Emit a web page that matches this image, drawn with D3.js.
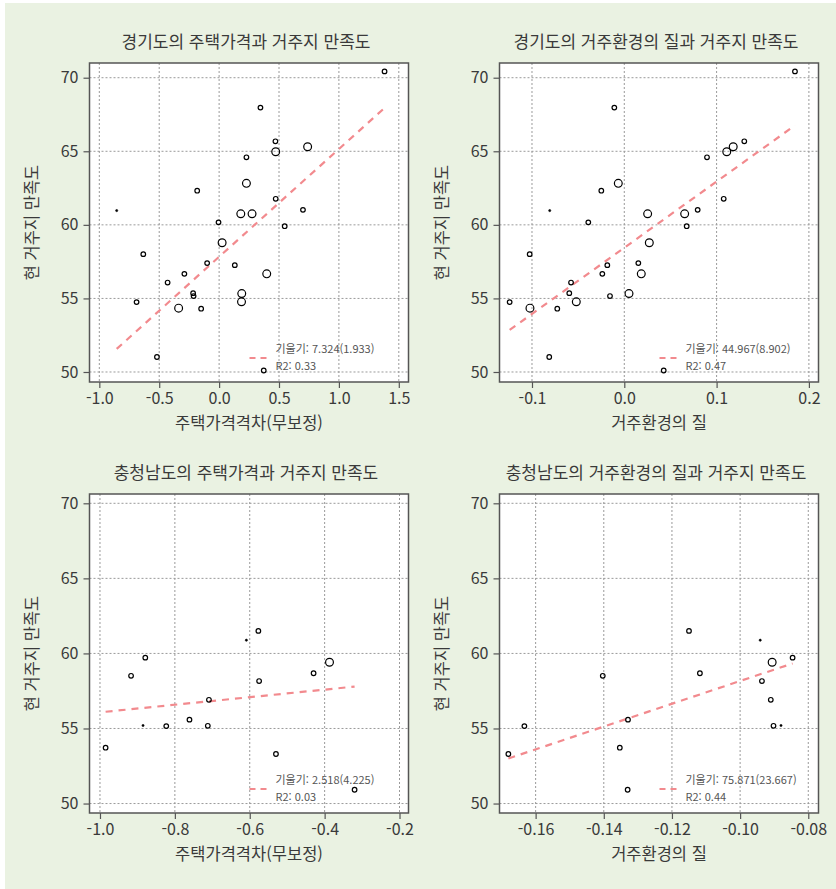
<!DOCTYPE html>
<html lang="ko">

<head>
    <meta charset="UTF-8">
    <script src="https://d3js.org/d3.v7.min.js"></script>
    <title>거주지 만족도</title>
    <style>
        html, body { margin: 0; padding: 0; background: #ffffff; }
        svg text { font-family: "Noto Sans CJK KR", "Noto Sans", sans-serif; }
    </style>
</head>

<body>
    <svg id="satisfaction" width="836" height="889"></svg>

    <script>
        // ---- data ----
        // 경기도: one entry per region
        const ggSatisfaction = [70.43, 67.97, 65.68, 64.97, 65.31, 64.59, 62.82, 62.32, 61.77, 61.02,
            60.97, 60.75, 60.75, 60.17, 59.91, 58.78, 58.01, 57.40, 57.26, 56.67,
            56.67, 56.08, 55.36, 55.16, 55.33, 54.77, 54.75, 54.34, 54.30, 51.02, 50.10];
        const ggPriceGap = [1.381, 0.345, 0.470, 0.4725, 0.739, 0.228, 0.228, -0.183, 0.4725, 0.700,
            -0.855, 0.181, 0.275, -0.005, 0.5475, 0.025, -0.633, -0.100, 0.131, 0.3975,
            -0.290, -0.430, -0.217, -0.213, 0.189, 0.187, -0.689, -0.338, -0.150, -0.519, 0.3725];
        const ggEnvQuality = [0.1849, -0.0108, 0.130, 0.111, 0.118, 0.0896, -0.0065, -0.0249, 0.1077, 0.0795,
            -0.0808, 0.0253, 0.0654, -0.039, 0.0676, 0.0271, -0.1025, 0.0152, -0.0184, 0.0184,
            -0.0238, -0.0577, -0.0596, -0.0155, 0.0051, -0.052, -0.1242, -0.1022, -0.0726, -0.0813, 0.0427];
        // marker size class: 0 = dot, 1 = small circle, 2 = large circle
        const ggSize = [1, 1, 1, 2, 2, 1, 2, 1, 1, 1,
            0, 2, 2, 1, 1, 2, 1, 1, 1, 2,
            1, 1, 1, 1, 2, 2, 1, 2, 1, 1, 1];

        // 충청남도
        const cnSatisfaction = [61.50, 60.88, 59.72, 59.41, 58.51, 58.68, 58.16, 56.91, 55.59, 55.20,
            55.16, 55.18, 53.72, 53.30, 50.92];
        const cnPriceGap = [-0.577, -0.609, -0.879, -0.387, -0.917, -0.4295, -0.575, -0.709, -0.761, -0.885,
            -0.823, -0.712, -0.985, -0.530, -0.320];
        const cnEnvQuality = [-0.115, -0.0941, -0.0846, -0.0906, -0.1403, -0.1118, -0.0936, -0.091, -0.1329, -0.088,
            -0.1633, -0.0902, -0.1353, -0.168, -0.133];
        const cnSize = [1, 0, 1, 2, 1, 1, 1, 1, 1, 0, 1, 1, 1, 1, 1];

        // regression results per panel
        const panelTitles = ["경기도의 주택가격과 거주지 만족도", "경기도의 거주환경의 질과 거주지 만족도",
            "충청남도의 주택가격과 거주지 만족도", "충청남도의 거주환경의 질과 거주지 만족도"];
        const xLabels = ["주택가격격차(무보정)", "거주환경의 질", "주택가격격차(무보정)", "거주환경의 질"];
        const slopes = [7.324, 44.967, 2.518, 75.871];
        const intercepts = [57.83, 58.445, 58.596, 65.75];
        const slopeLabels = ["기울기: 7.324(1.933)", "기울기: 44.967(8.902)", "기울기: 2.518(4.225)", "기울기: 75.871(23.667)"];
        const r2Labels = ["R2: 0.33", "R2: 0.47", "R2: 0.03", "R2: 0.44"];
        const xTicks = [[-1.0, -0.5, 0.0, 0.5, 1.0, 1.5], [-0.1, 0.0, 0.1, 0.2],
            [-1.0, -0.8, -0.6, -0.4, -0.2], [-0.16, -0.14, -0.12, -0.10, -0.08]];
        const xDigits = [1, 1, 1, 2];
        const yTicks = [50, 55, 60, 65, 70];

        // ---- layout ----
        const svg = d3.select("svg#satisfaction");
        const width = +svg.attr("width");
        const height = +svg.attr("height");
        const plotSize = 319;
        const lefts = [89.5, 499.5, 89.5, 499.5];
        const tops = [63, 63, 494, 494];
        const xDomains = [[-1.082, 1.581], [-0.1352, 0.2104], [-1.028, -0.176], [-0.1706, -0.077]];
        const yDomains = [[49.32, 71.0], [49.32, 71.0], [49.37, 70.62], [49.37, 70.62]];

        const lineColor = "#f28a8e";
        const axisColor = "#555";
        const textColor = "#3a3a3a";

        svg.append("rect")
            .attr("x", 5).attr("y", 3)
            .attr("width", width - 5).attr("height", height - 3)
            .attr("fill", "#eaf2e2");

        const panels = [
            { xs: ggPriceGap, ys: ggSatisfaction, sizes: ggSize },
            { xs: ggEnvQuality, ys: ggSatisfaction, sizes: ggSize },
            { xs: cnPriceGap, ys: cnSatisfaction, sizes: cnSize },
            { xs: cnEnvQuality, ys: cnSatisfaction, sizes: cnSize }
        ];

        panels.forEach((p, i) => {
            const g = svg.append("g")
                .attr("transform", `translate(${lefts[i]},${tops[i]})`);

            const x = d3.scaleLinear().domain(xDomains[i]).range([0, plotSize]);
            const y = d3.scaleLinear().domain(yDomains[i]).range([plotSize, 0]);

            // white plot area
            g.append("rect")
                .attr("width", plotSize).attr("height", plotSize)
                .attr("fill", "#ffffff");

            // dotted gridlines
            g.append("g").selectAll("line.vgrid").data(xTicks[i]).join("line")
                .attr("x1", d => x(d)).attr("x2", d => x(d))
                .attr("y1", 0).attr("y2", plotSize)
                .attr("stroke", "#9a9a9a").attr("stroke-width", 1)
                .attr("stroke-dasharray", "2,2");
            g.append("g").selectAll("line.hgrid").data(yTicks).join("line")
                .attr("x1", 0).attr("x2", plotSize)
                .attr("y1", d => y(d)).attr("y2", d => y(d))
                .attr("stroke", "#9a9a9a").attr("stroke-width", 1)
                .attr("stroke-dasharray", "2,2");

            // axes
            const bottomAxis = d3.axisBottom(x).tickValues(xTicks[i])
                .tickSize(6).tickPadding(5)
                .tickFormat(d => d.toFixed(xDigits[i]));
            const leftAxis = d3.axisLeft(y).tickValues(yTicks)
                .tickSize(6).tickPadding(5);

            const bx = g.append("g")
                .attr("transform", `translate(0,${plotSize})`)
                .call(bottomAxis);
            const ly = g.append("g").call(leftAxis);
            [bx, ly].forEach(a => {
                a.select(".domain").remove();
                a.selectAll(".tick line").attr("stroke", axisColor).attr("stroke-width", 1.2);
                a.selectAll(".tick text")
                    .attr("fill", textColor)
                    .style("font-size", "16px");
            });

            // regression line over the data range
            const xr = d3.extent(p.xs);
            g.append("line")
                .attr("x1", x(xr[0])).attr("y1", y(intercepts[i] + slopes[i] * xr[0]))
                .attr("x2", x(xr[1])).attr("y2", y(intercepts[i] + slopes[i] * xr[1]))
                .attr("stroke", lineColor).attr("stroke-width", 2.2)
                .attr("stroke-dasharray", "7,6");

            // points
            const pts = p.xs.map((d, k) => ({ x: d, y: p.ys[k], s: p.sizes[k] }));
            g.append("g").selectAll("circle").data(pts).join("circle")
                .attr("cx", d => x(d.x))
                .attr("cy", d => y(d.y))
                .attr("r", d => d.s === 0 ? 1.1 : (d.s === 1 ? 2.3 : 3.9))
                .attr("fill", d => d.s === 0 ? "#000" : "none")
                .attr("stroke", "#000")
                .attr("stroke-width", d => d.s === 0 ? 0.6 : 1.2);

            // legend
            const legend = g.append("g").attr("transform", `translate(160,${plotSize - 24})`);
            legend.append("line")
                .attr("x1", 0).attr("x2", 18).attr("y1", 0).attr("y2", 0)
                .attr("stroke", lineColor).attr("stroke-width", 2.2)
                .attr("stroke-dasharray", "6,5");
            legend.append("text")
                .attr("x", 26).attr("y", -8)
                .attr("dominant-baseline", "middle")
                .attr("fill", "#555").style("font-size", "11px")
                .text(slopeLabels[i]);
            legend.append("text")
                .attr("x", 26).attr("y", 9)
                .attr("dominant-baseline", "middle")
                .attr("fill", "#555").style("font-size", "11px")
                .text(r2Labels[i]);

            // plot frame
            g.append("rect")
                .attr("width", plotSize).attr("height", plotSize)
                .attr("fill", "none")
                .attr("stroke", axisColor).attr("stroke-width", 1.5);

            // titles and axis labels
            g.append("text")
                .attr("x", plotSize / 2 - 3).attr("y", -20)
                .attr("text-anchor", "middle").attr("dominant-baseline", "middle")
                .attr("fill", textColor).style("font-size", "17px")
                .text(panelTitles[i]);
            g.append("text")
                .attr("x", plotSize / 2).attr("y", plotSize + 43)
                .attr("text-anchor", "middle").attr("dominant-baseline", "middle")
                .attr("fill", textColor).style("font-size", "16.5px")
                .text(xLabels[i]);
            g.append("text")
                .attr("transform", `translate(-56,${plotSize / 2}) rotate(-90)`)
                .attr("text-anchor", "middle").attr("dominant-baseline", "middle")
                .attr("fill", textColor).style("font-size", "16.5px")
                .text("현 거주지 만족도");
        });
    </script>
</body>

</html>
